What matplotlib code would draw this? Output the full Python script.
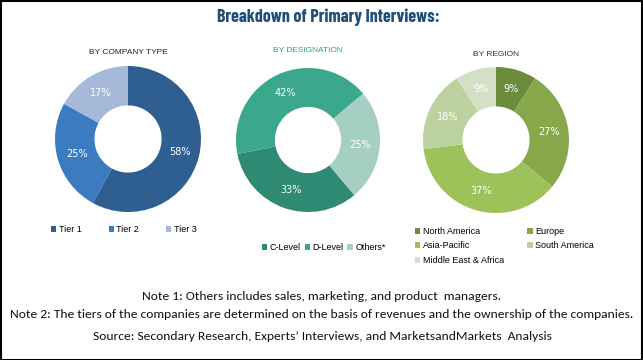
import matplotlib
matplotlib.use("Agg")
import matplotlib.pyplot as plt
from matplotlib.patches import Rectangle

W, H = 643, 360
DPI = 100

title = "Breakdown of Primary Interviews:"

company_labels = ["Tier 1", "Tier 2", "Tier 3"]
company_values = [58, 25, 17]
company_colors = ["#2f5f91", "#3b7bbf", "#a6b9d8"]

desig_labels = ["C-Level", "D-Level", "Others*"]
desig_values = [33, 42, 25]
desig_colors = ["#2e8a73", "#3ba78d", "#a6cfc3"]

region_labels = ["North America", "Europe", "Asia-Pacific", "South America", "Middle East & Africa"]
region_values = [9, 27, 37, 18, 9]
region_colors = ["#6b8b3d", "#87a84a", "#9dc25a", "#bbd29e", "#d4e0c6"]

notes = [
    "Note 1: Others includes sales, marketing, and product  managers.",
    "Note 2: The tiers of the companies are determined on the basis of revenues and the ownership of the companies.",
    "Source: Secondary Research, Experts\u2019 Interviews, and MarketsandMarkets  Analysis",
]

fig = plt.figure(figsize=(W / DPI, H / DPI), dpi=DPI)
fig.patch.set_facecolor("white")

def px_axes(cx, cy, r):
    return fig.add_axes([(cx - r) / W, 1 - (cy + r) / H, 2 * r / W, 2 * r / H])

def donut(cx, cy, r, values, colors, start, subtitle, sub_color, sub_y):
    ax = px_axes(cx, cy, r)
    wedges, _t, autot = ax.pie(values, colors=colors, startangle=start, counterclock=False,
                               radius=1.0, wedgeprops=dict(width=0.54, edgecolor="none"),
                               autopct=lambda p: f"{p:.0f}%", pctdistance=0.73,
                               textprops=dict(color="white", fontsize=7, family="DejaVu Sans"))
    ax.set_xlim(-1, 1)
    ax.set_ylim(-1, 1)
    ax.set_aspect("equal")
    ax.axis("off")
    fig.text(cx / W, 1 - sub_y / H, subtitle, ha="center", va="center",
             fontsize=6, color=sub_color, family="Liberation Sans")
    return wedges

fig.text(328 / W, 1 - 17 / H, title, ha="center", va="center", fontsize=13,
         fontweight="bold", color="#1f4e79",
         family=["Barlow Condensed", "Barlow Semi Condensed", "Liberation Sans"])

w1 = donut(128, 139, 73, company_values, company_colors, 90, "BY COMPANY TYPE", "#222222", 53)
w2 = donut(308, 140, 72, desig_values, desig_colors, -50, "BY DESIGNATION", "#3a9a82", 51)
w3 = donut(496, 140, 73, region_values, region_colors, 90, "BY REGION", "#333333", 54)

leg_kw = dict(frameon=False, handlelength=0.6, handleheight=0.6, handletextpad=0.25,
              prop=dict(family="Liberation Sans", size=6.5), borderpad=0, borderaxespad=0)

fig.legend(w1, company_labels, loc="center left", ncol=3, columnspacing=3.0,
           bbox_to_anchor=(51 / W, 1 - 230 / H), **leg_kw)
fig.legend(w2, desig_labels, loc="center left", ncol=3, columnspacing=0.45,
           bbox_to_anchor=(262 / W, 1 - 248 / H), **leg_kw)
order = [0, 2, 4, 1, 3]
fig.legend([w3[i] for i in order], [region_labels[i] for i in order], loc="upper left",
           ncol=2, columnspacing=2.6, labelspacing=0.6,
           bbox_to_anchor=(415 / W, 1 - 227 / H), **leg_kw)

for y, s in zip([297, 314, 337], notes):
    fig.text(322 / W, 1 - y / H, s, ha="center", va="center", fontsize=9.7,
             color="#111111", family=["Carlito", "Open Sans"])

fig.patches.append(Rectangle((0.5 / W, 0.5 / H), (W - 1.5) / W, (H - 1.5) / H,
                             transform=fig.transFigure, fill=False, edgecolor="black", linewidth=1.5))

fig.savefig("out.png", dpi=DPI)
